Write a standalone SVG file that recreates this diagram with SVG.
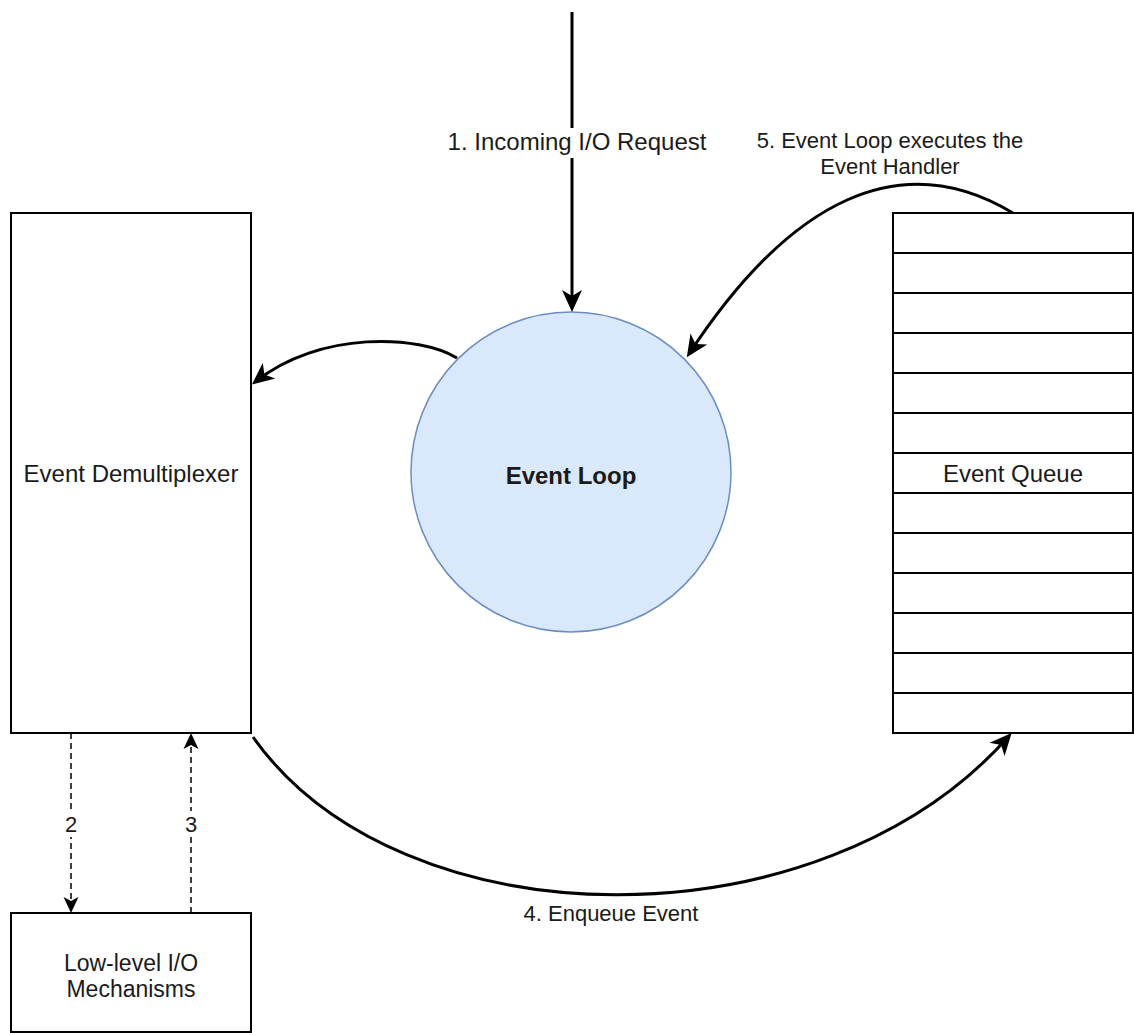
<svg xmlns="http://www.w3.org/2000/svg" width="1134" height="1033" viewBox="0 0 1134 1033">
<style>
.box{fill:#fff;stroke:#000;stroke-width:2}
.row{stroke:#000;stroke-width:2}
.node{font-family:"Liberation Sans",Arial,Helvetica,sans-serif;font-size:24px;fill:#1a1a1a;text-anchor:middle}
.lbl{font-family:"Liberation Sans",Arial,Helvetica,sans-serif;font-size:22px;fill:#1a1a1a;text-anchor:middle}
.edge{fill:none;stroke:#000;stroke-width:3}
.dash{fill:none;stroke:#000;stroke-width:1.5;stroke-dasharray:6 4}
</style>
<defs>
<marker id="arr" viewBox="0 0 22 22" refX="18" refY="11" markerWidth="22" markerHeight="22" markerUnits="userSpaceOnUse" orient="auto">
<path d="M0,1 L22,11 L0,21 L6,11 Z" fill="#000"/>
</marker>
<marker id="arrs" viewBox="0 0 16 16" refX="14" refY="8" markerWidth="16" markerHeight="16" markerUnits="userSpaceOnUse" orient="auto">
<path d="M0,0.5 L16,8 L0,15.5 L4,8 Z" fill="#000"/>
</marker>
</defs>
<rect width="1134" height="1033" fill="#fff"/>

<g id="demux">
<rect class="box" x="11" y="213" width="240" height="520"/>
<text class="node" x="131" y="482">Event Demultiplexer</text>
</g>

<g id="lowlevel">
<rect class="box" x="11" y="913" width="240" height="119"/>
<text class="node" style="font-size:23px" x="131" y="971">Low-level I/O</text>
<text class="node" style="font-size:23px" x="131" y="997">Mechanisms</text>
</g>

<g id="eventloop">
<circle cx="571" cy="472" r="160" fill="#dae8fc" stroke="#6c8ebf" stroke-width="1.5"/>
<text class="node" x="571" y="484" font-weight="bold">Event Loop</text>
</g>

<g id="eventqueue">
<rect class="box" x="893" y="213" width="240" height="520"/>
<line class="row" x1="893" y1="253" x2="1133" y2="253"/>
<line class="row" x1="893" y1="293" x2="1133" y2="293"/>
<line class="row" x1="893" y1="333" x2="1133" y2="333"/>
<line class="row" x1="893" y1="373" x2="1133" y2="373"/>
<line class="row" x1="893" y1="413" x2="1133" y2="413"/>
<line class="row" x1="893" y1="453" x2="1133" y2="453"/>
<line class="row" x1="893" y1="493" x2="1133" y2="493"/>
<line class="row" x1="893" y1="533" x2="1133" y2="533"/>
<line class="row" x1="893" y1="573" x2="1133" y2="573"/>
<line class="row" x1="893" y1="613" x2="1133" y2="613"/>
<line class="row" x1="893" y1="653" x2="1133" y2="653"/>
<line class="row" x1="893" y1="693" x2="1133" y2="693"/>
<text class="node" x="1013" y="482">Event Queue</text>
</g>

<g id="connectors">
<path class="edge" d="M572,12 L572,308" marker-end="url(#arr)"/>
<rect x="446" y="128" width="262" height="30" fill="#fff"/>
<text class="lbl" style="font-size:24px" x="577" y="150">1. Incoming I/O Request</text>

<path class="edge" d="M457,358 C420,335 320,330 255,382" marker-end="url(#arr)"/>

<path class="edge" d="M1013,213 C900,145 790,200 689,354" marker-end="url(#arr)"/>
<text class="lbl" x="890" y="148">5. Event Loop executes the</text>
<text class="lbl" x="890" y="174">Event Handler</text>

<path class="edge" d="M253,737 C400,945 820,950 1009,736" marker-end="url(#arr)"/>
<text class="lbl" x="611" y="921">4. Enqueue Event</text>

<path class="dash" d="M71,733 L71,911" marker-end="url(#arrs)"/>
<rect x="62" y="811" width="18" height="26" fill="#fff"/>
<text class="lbl" x="71" y="832">2</text>

<path class="dash" d="M191,913 L191,735" marker-end="url(#arrs)"/>
<rect x="182" y="811" width="18" height="26" fill="#fff"/>
<text class="lbl" x="191" y="832">3</text>
</g>
</svg>
